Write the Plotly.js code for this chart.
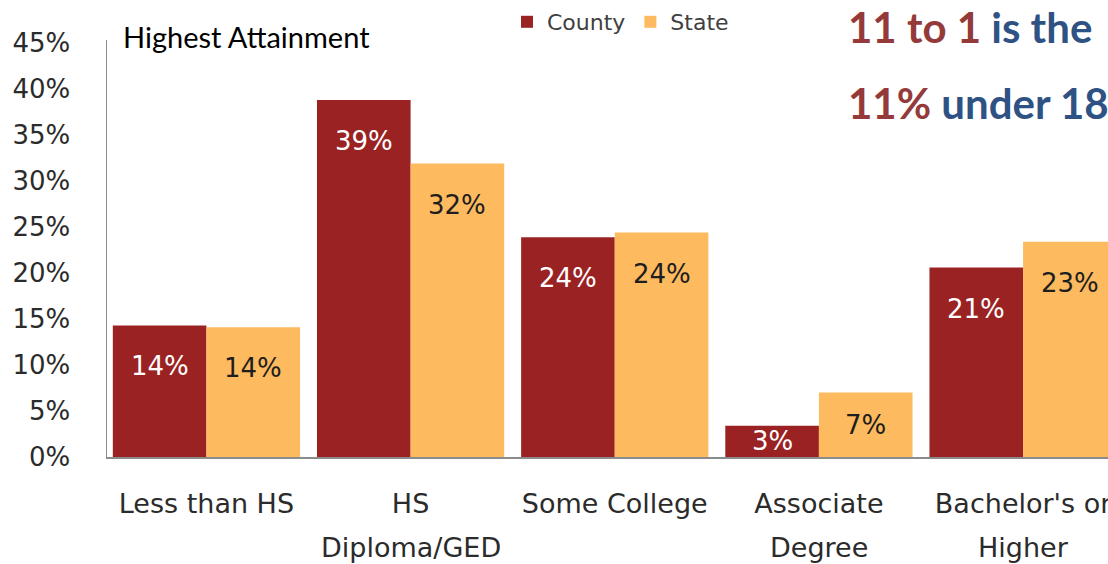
<!DOCTYPE html>
<html>
<head>
<meta charset="utf-8">
<script src="https://cdn.plot.ly/plotly-3.0.1.min.js"></script>
<style>
  html, body { margin: 0; padding: 0; background: #ffffff; }
  #chart { width: 1108px; height: 564px; }
</style>
</head>
<body>
<div id="chart"></div>
<script>
// ---- data ----
var categories = ["Less than HS", "HS", "Some College", "Associate", "Bachelor's or"];
var secondLines = ["", "Diploma/GED", "", "Degree", "Higher"];
var countyValues = [14.3, 38.8, 23.9, 3.4, 20.6];
var stateValues  = [14.1, 31.9, 24.4, 7.0, 23.4];
var seriesNames = ["County", "State"];
var yTickVals = [0, 5, 10, 15, 20, 25, 30, 35, 40, 45];
var yTickText = ["0%", "5%", "10%", "15%", "20%", "25%", "30%", "35%", "40%", "45%"];
var chartTitle = "Highest Attainment";

// ---- style ----
var countyColor = "#9A2222";
var stateColor = "#FDBA5F";
var W = 1108, H = 564;
var M = {l: 107, r: 0, t: 40, b: 107};
var xRange = [-0.487, 4.416];
var yRange = [0, 45.33];
var bargap = 0.083;
var plotW = W - M.l - M.r, plotH = H - M.t - M.b;
var pxPerCat = plotW / (xRange[1] - xRange[0]);
var pxPerPct = plotH / (yRange[1] - yRange[0]);
var barPx = (1 - bargap) * pxPerCat / 2;
var xTickFont = {family: "DejaVu Sans", size: 27, color: "#2b2b2b"};
var yTickFont = {family: "DejaVu Sans", size: 26, color: "#2b2b2b"};

var traces = [
  {type: "bar", name: seriesNames[0], x: categories, y: countyValues,
   marker: {color: countyColor}, hoverinfo: "none"},
  {type: "bar", name: seriesNames[1], x: categories, y: stateValues,
   marker: {color: stateColor}, hoverinfo: "none"}
];

var annotations = [];
function addLabels(vals, side, color) {
  vals.forEach(function (v, i) {
    var h = v * pxPerPct;
    annotations.push({
      xref: "x", yref: "y", x: categories[i], y: v,
      text: Math.round(v) + "%", showarrow: false,
      xanchor: "center", yanchor: "middle",
      xshift: side * barPx / 2, yshift: -Math.min(41, h / 2),
      font: {family: "DejaVu Sans", size: 26, color: color}
    });
  });
}
addLabels(countyValues, -1, "#ffffff");
addLabels(stateValues, 1, "#1e1e1e");

secondLines.forEach(function (t, i) {
  if (!t) return;
  annotations.push({
    xref: "x", yref: "paper", x: categories[i], y: (457 - 547) / plotH,
    text: t, showarrow: false, xanchor: "center", yanchor: "middle",
    font: xTickFont
  });
});

// title and side texts
annotations.push({
  xref: "paper", yref: "paper", x: (121 - M.l) / plotW, y: (457 - 36) / plotH,
  text: chartTitle, showarrow: false, xanchor: "left", yanchor: "middle",
  font: {family: "Lato", size: 29, color: "#000000"}
});
annotations.push({
  xref: "paper", yref: "paper", x: (846 - M.l) / plotW, y: (457 - 27) / plotH,
  text: "<span style='color:#943A3A'>11 to 1</span> is the", showarrow: false,
  xanchor: "left", yanchor: "middle",
  font: {family: "Lato", size: 42, color: "#2E5283", weight: 700}
});
annotations.push({
  xref: "paper", yref: "paper", x: (846 - M.l) / plotW, y: (457 - 103) / plotH,
  text: "<span style='color:#943A3A'>11%</span> under 18", showarrow: false,
  xanchor: "left", yanchor: "middle",
  font: {family: "Lato", size: 42, color: "#2E5283", weight: 700}
});

var layout = {
  width: W, height: H,
  margin: M,
  paper_bgcolor: "#ffffff", plot_bgcolor: "#ffffff",
  barmode: "group", bargap: bargap, bargroupgap: 0,
  showlegend: true,
  legend: {
    orientation: "h", x: (507 - M.l) / plotW, y: (457 - 22) / plotH,
    xanchor: "left", yanchor: "middle",
    font: {family: "DejaVu Sans", size: 22, color: "#404040"},
    bgcolor: "rgba(0,0,0,0)", itemwidth: 30, tracegroupgap: 0
  },
  xaxis: {
    type: "category", range: xRange, showgrid: false, zeroline: false,
    showline: true, linecolor: "#8c8c8c", linewidth: 1.5,
    ticks: "", tickfont: xTickFont, ticklabelstandoff: 22,
    fixedrange: true
  },
  yaxis: {
    range: yRange, tickvals: yTickVals, ticktext: yTickText,
    showgrid: false, zeroline: false,
    showline: true, linecolor: "#8c8c8c", linewidth: 1.5,
    ticks: "", tickfont: yTickFont, ticklabelstandoff: 30,
    fixedrange: true
  },
  annotations: annotations
};

Plotly.newPlot("chart", traces, layout, {displayModeBar: false, staticPlot: true});
</script>
</body>
</html>
